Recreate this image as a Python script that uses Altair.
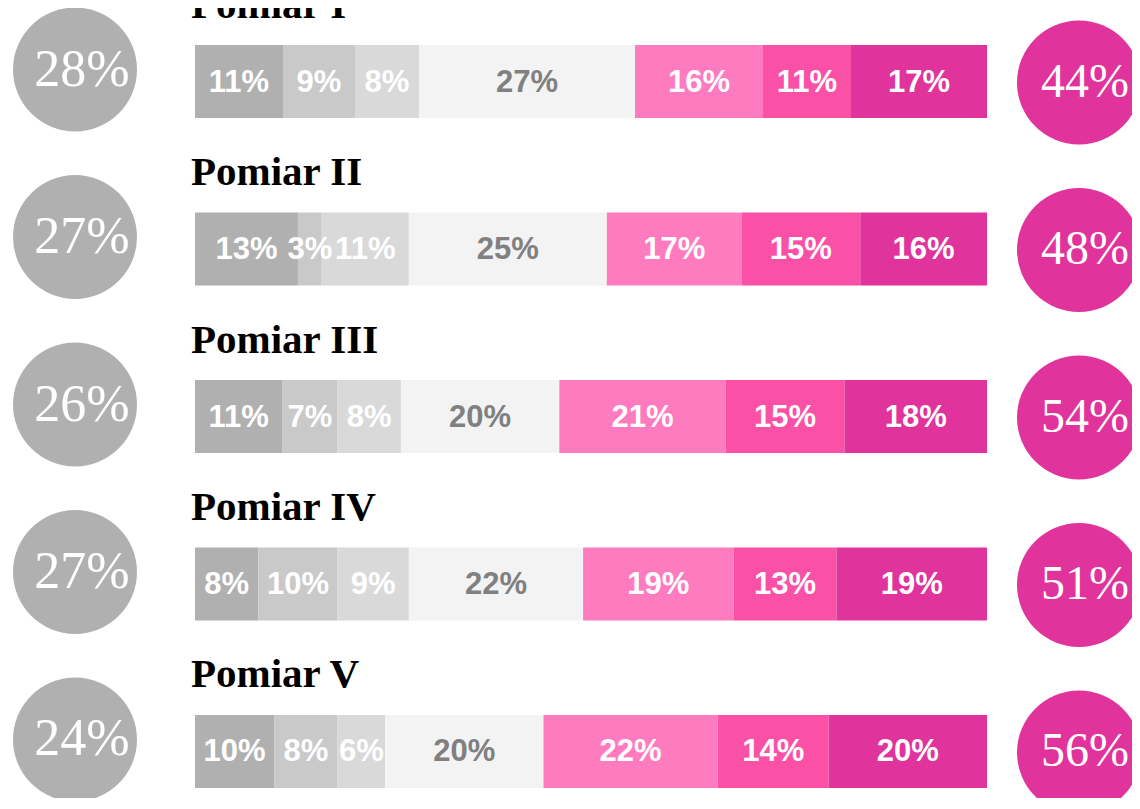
import altair as alt
import pandas as pd

# ---- data ----
rows = ["Pomiar I", "Pomiar II", "Pomiar III", "Pomiar IV", "Pomiar V"]
pomiar_1 = [11, 9, 8, 27, 16, 11, 17]
pomiar_2 = [13, 3, 11, 25, 17, 15, 16]
pomiar_3 = [11, 7, 8, 20, 21, 15, 18]
pomiar_4 = [8, 10, 9, 22, 19, 13, 19]
pomiar_5 = [10, 8, 6, 20, 22, 14, 20]
left_totals = [28, 27, 26, 27, 24]
right_totals = [44, 48, 54, 51, 56]
segments = [0, 1, 2, 3, 4, 5, 6]
seg_colors = ["#b0b0b0", "#c9c9c9", "#d9d9d9", "#f3f3f3", "#ff7bc0", "#fa50a6", "#e0339b"]

series = [pomiar_1, pomiar_2, pomiar_3, pomiar_4, pomiar_5]
bars_df = pd.DataFrame(
    [{"row": r, "seg": s, "value": v, "label": f"{v}%"}
     for r, vals in zip(rows, series) for s, v in zip(segments, vals)]
)
tot_df = pd.DataFrame({
    "row": rows,
    "left": [f"{v}%" for v in left_totals],
    "right": [f"{v}%" for v in right_totals],
})

y_enc = alt.Y("row:N", sort=rows, axis=None,
              scale=alt.Scale(range=[37, 780], paddingInner=0.564, paddingOuter=0))
x_scale = alt.Scale(domain=[0, 1], range=[187, 979])

stacked = alt.Chart(bars_df).transform_stack(
    stack="value", groupby=["row"], as_=["x0", "x1"], offset="normalize",
    sort=[alt.SortField("seg", order="ascending")]
).transform_calculate(
    mid="(datum.x0 + datum.x1) / 2",
    lblcol="datum.seg == 3 ? '#808080' : '#ffffff'"
)

bars = stacked.mark_bar().encode(
    x=alt.X("x0:Q", scale=x_scale, axis=None),
    x2="x1:Q",
    y=y_enc,
    color=alt.Color("seg:O", scale=alt.Scale(domain=segments, range=seg_colors), legend=None),
)

labels = stacked.mark_text(
    font="Liberation Sans", fontWeight="bold", fontSize=31, baseline="middle", align="center", dy=1
).encode(
    x=alt.X("mid:Q", scale=x_scale, axis=None),
    y=y_enc,
    text="label:N",
    color=alt.Color("lblcol:N", scale=None),
)

tot = alt.Chart(tot_df)

titles = tot.mark_text(
    font="Liberation Serif", fontWeight="bold", fontSize=41, align="left",
    baseline="alphabetic", dy=-64, color="#000000"
).encode(x=alt.value(183), y=y_enc, text="row:N")

left_circ = tot.mark_circle(size=15376, opacity=1, yOffset=-12, color="#b0b0b0").encode(
    x=alt.value(67), y=y_enc)
left_txt = tot.mark_text(
    font="Liberation Serif", fontSize=52, color="white", align="center",
    baseline="alphabetic", yOffset=-12, dy=16, dx=7
).encode(x=alt.value(67), y=y_enc, text="left:N")

right_circ = tot.mark_circle(size=15376, opacity=1, yOffset=1, color="#e0339b").encode(
    x=alt.value(1071), y=y_enc)
right_txt = tot.mark_text(
    font="Liberation Serif", fontSize=48, color="white", align="center",
    baseline="alphabetic", yOffset=1, dy=14, dx=6
).encode(x=alt.value(1071), y=y_enc, text="right:N")

chart = alt.layer(
    bars, labels, titles, left_circ, left_txt, right_circ, right_txt
).properties(
    width=1124, height=790,
    autosize=alt.AutoSizeParams(type="none"),
    padding=0,
).configure_view(stroke=None).resolve_scale(color="independent")

chart.save("out.html", embed_options={"renderer": "svg", "actions": False})
